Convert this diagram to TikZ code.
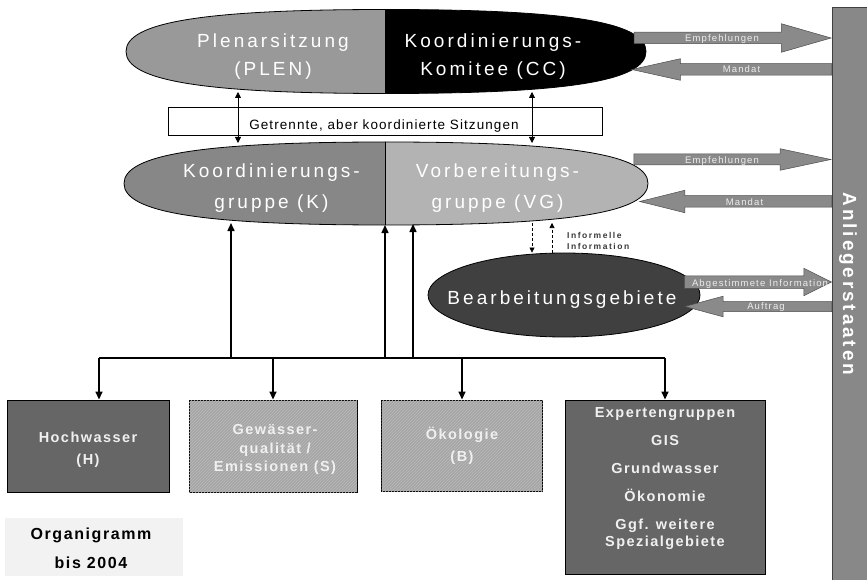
\documentclass[tikz,border=0pt]{standalone}
\usepackage{fontspec}
\setmainfont{Liberation Sans}
\newfontfamily\ovalfont[LetterSpace=16]{Liberation Sans}
\newfontfamily\boxfont[LetterSpace=10]{Liberation Sans}
\newfontfamily\orgfont[LetterSpace=10]{Liberation Sans}
\newfontfamily\barfont[LetterSpace=15]{Liberation Sans}
\newfontfamily\arrowfont[LetterSpace=12]{Liberation Sans}
\newfontfamily\infofont[LetterSpace=18]{Liberation Sans}
\newfontfamily\sitzfont[LetterSpace=8]{Liberation Sans}
\usetikzlibrary{shapes.geometric,shapes.arrows,arrows.meta,patterns}

\definecolor{plengray}{HTML}{999999}
\definecolor{kgray}{HTML}{878787}
\definecolor{vggray}{HTML}{B3B3B3}
\definecolor{bggray}{HTML}{404040}
\definecolor{bargray}{HTML}{888888}
\definecolor{boxdark}{HTML}{666666}
\definecolor{hatchgray}{HTML}{A6A6A6}
\definecolor{hatchline}{HTML}{BABABA}
\definecolor{orggray}{HTML}{F2F2F2}
\definecolor{arrowgray}{HTML}{8A8A8A}
\definecolor{infogray}{HTML}{3A3A3A}

% fat oval: centre x, centre y, half width, half height
\newcommand{\ovalpath}[4]{(#1-#3,#2) .. controls (#1-#3,#2+.7*#4) and (#1-.7*#3,#2+#4) .. (#1,#2+#4)
  .. controls (#1+.7*#3,#2+#4) and (#1+#3,#2+.7*#4) .. (#1+#3,#2)
  .. controls (#1+#3,#2-.7*#4) and (#1+.7*#3,#2-#4) .. (#1,#2-#4)
  .. controls (#1-.7*#3,#2-#4) and (#1-#3,#2-.7*#4) .. (#1-#3,#2) -- cycle}

\begin{document}
\begin{tikzpicture}[x=1pt,y=-1pt,
  oval/.style={draw=black,line width=0.8pt},
  ovaltext/.style={text=white,align=center,inner sep=0pt,font=\ovalfont\fontsize{19}{#1}\selectfont},
  ovaltext/.default=28,
  grpbox/.style={draw=black,line width=0.9pt,fill=boxdark,minimum height=92pt,inner sep=0pt},
  hatchbox/.style={grpbox,fill=hatchgray,postaction={pattern=north east lines,pattern color=hatchline}},
  grptext/.style={text=white!94!black,align=center,inner sep=0pt,font=\boxfont\bfseries\fontsize{14.5}{17}\selectfont},
  bigarrow/.style={single arrow,draw=black!70,line width=0.5pt,fill=arrowgray,inner xsep=0pt,minimum width=1pt},
  arrowtext/.style={text=white!93!black,inner sep=0pt,anchor=base,font=\arrowfont\fontsize{9.5}{11}\selectfont},
  arr/.style={line width=1.5pt,-{Triangle[length=8pt,width=7pt]}},
  dblarr/.style={line width=0.8pt,{Triangle[length=6pt,width=6pt]}-{Triangle[length=6pt,width=6pt]}},
  dashline/.style={line width=0.6pt,dash pattern=on 3pt off 2pt,-{Triangle[length=5pt,width=5pt]}}]
\useasboundingbox (0,0) rectangle (867,580);

% upper oval: plenum and committee
\begin{scope}
  \clip \ovalpath{386}{51.5}{260}{42};
  \fill[plengray] (120,0) rectangle (385,100);
  \fill[black] (385,0) rectangle (650,100);
\end{scope}
\draw[oval] \ovalpath{386}{51.5}{260}{42};
\node[ovaltext] (plen) at (273,56.2) {Plenarsitzung\\(PLEN)};
\node[ovaltext] (cc) at (493,56.2) {Koordinierungs-\\Komitee (CC)};

% middle oval: working groups
\begin{scope}
  \clip \ovalpath{386}{183.5}{262}{41.5};
  \fill[kgray] (120,130) rectangle (385,240);
  \fill[vggray] (385,130) rectangle (660,240);
  \draw[line width=0.8pt] (385,130) -- (385,240);
\end{scope}
\draw[oval] \ovalpath{386}{183.5}{262}{41.5};
\node[ovaltext=31] (kg) at (271.5,187.7) {Koordinierungs-\\gruppe (K)};
\node[ovaltext=31] (vg) at (497.5,187.7) {Vorbereitungs-\\gruppe (VG)};

\node[ellipse,draw=black,line width=0.8pt,fill=bggray,minimum width=272pt,minimum height=84pt,inner sep=0pt] (bg) at (564,295) {};
\node[ovaltext,anchor=base] (bg-t) at (562,304) {Bearbeitungsgebiete};

\node[draw=black,line width=0.8pt,fill=white,minimum width=434pt,minimum height=28pt,inner sep=0pt] (sitz) at (385,121) {};
\node[anchor=base,inner sep=0pt,font=\sitzfont\fontsize{13.5}{15}\selectfont] (sitz-t) at (384,129.5) {Getrennte, aber koordinierte Sitzungen};

\node[draw=black!75,line width=0.8pt,fill=bargray,minimum width=36pt,minimum height=574pt,inner sep=0pt] (bar) at (850,294.5) {};
\node[rotate=-90,anchor=base,inner sep=0pt,text=white,font=\barfont\bfseries\fontsize{19}{22}\selectfont] (bar-t) at (843,284) {Anliegerstaaten};

% groups
\node[grpbox,minimum width=162pt] (hw) at (88,446) {};
\node[hatchbox,minimum width=168pt] (gw) at (273,446) {};
\node[hatchbox,minimum width=161pt,minimum height=91pt] (oe) at (462,445.5) {};
\node[grpbox,minimum width=200pt,minimum height=174pt] (ex) at (665,487) {};
\node[fill=orggray,minimum width=178pt,minimum height=58pt,inner sep=0pt] (org) at (94,547) {};

\node[grptext] (hw-t) at (88,449.3) {Hochwasser\\[5pt](H)};
\node[grptext] (gw-t) at (275,449.9) {Gewässer-\\[1.5pt]qualität /\\[1.5pt]Emissionen (S)};
\node[grptext] (oe-t) at (462,446.2) {Ökologie\\[5pt](B)};
\node[grptext] (ex-t) at (665,478.9) {Expertengruppen\\[11pt]GIS\\[11pt]Grundwasser\\[11pt]Ökonomie\\[11pt]Ggf. weitere\\Spezialgebiete};
\node[align=center,inner sep=0pt,font=\orgfont\bfseries\fontsize{16}{17}\selectfont] (org-t) at (91,548) {Organigramm\\[12pt]bis 2004};

% block arrows to and from the riparian states
\node[bigarrow,anchor=tip,minimum height=197pt,inner ysep=5.5pt,single arrow head extend=8.5pt,single arrow tip angle=32] (emp1) at (832,38) {};
\node[arrowtext] (emp1-t) at (722,41.7) {Empfehlungen};
\node[bigarrow,shape border rotate=180,anchor=tail,minimum height=200pt,inner ysep=5.5pt,single arrow head extend=5pt,single arrow tip angle=25] (man1) at (832,69.5) {};
\node[arrowtext] (man1-t) at (741.5,72.7) {Mandat};
\node[bigarrow,anchor=tip,minimum height=197pt,inner ysep=5.25pt,single arrow head extend=5.25pt,single arrow tip angle=24] (emp2) at (832,159.5) {};
\node[arrowtext] (emp2-t) at (722,164) {Empfehlungen};
\node[bigarrow,shape border rotate=180,anchor=tail,minimum height=192pt,inner ysep=5.5pt,single arrow head extend=5.5pt,single arrow tip angle=28] (man2) at (832,201.5) {};
\node[arrowtext] (man2-t) at (744.5,206) {Mandat};
\node[bigarrow,anchor=tip,minimum height=147pt,inner ysep=6pt,single arrow head extend=7.5pt,single arrow tip angle=53] (abg) at (832,282) {};
\node[arrowtext] (abg-t) at (760,286) {Abgestimmete Information};
\node[bigarrow,shape border rotate=180,anchor=tail,minimum height=147pt,inner ysep=4.75pt,single arrow head extend=5.25pt,single arrow tip angle=30] (auf) at (832,306.5) {};
\node[arrowtext] (auf-t) at (766,309.3) {Auftrag};

% ends on the oval borders
\coordinate (plen-b) at (238,92);
\coordinate (cc-b) at (532,92);
\coordinate (kg-t) at (238,143);
\coordinate (vg-t) at (532,143);
\coordinate (kg-b1) at (231,223);
\coordinate (kg-b2) at (385,225);
\coordinate (vg-b1) at (413,224);
\coordinate (vg-d) at (532,223);
\coordinate (vg-u) at (552,223);
\coordinate (bus) at (385,358);
\coordinate (hw-in) at ([xshift=11pt]hw.north);

\path[draw,dblarr] (plen-b) -- (kg-t);
\path[draw,dblarr] (cc-b) -- (vg-t);

\path[draw,dashline] (vg-d) -- ([xshift=-32pt]bg.north);
\path[draw,dashline] ([xshift=-12pt]bg.north) -- (vg-u);
\node[anchor=west,align=left,inner sep=0pt,text=infogray,font=\infofont\bfseries\fontsize{8.5}{11.6}\selectfont] (info) at (567,241) {Informelle\\Information};

\path[draw,line width=1.5pt] (hw-in |- bus) -- (ex.north |- bus);
\path[draw,arr] (hw-in |- bus) -- (hw-in);
\foreach \b in {gw,oe,ex}
  \path[draw,arr] (\b.north |- bus) -- (\b.north);
\foreach \u in {kg-b1,kg-b2,vg-b1}
  \path[draw,arr] (\u |- bus) -- (\u);

\end{tikzpicture}
\end{document}
